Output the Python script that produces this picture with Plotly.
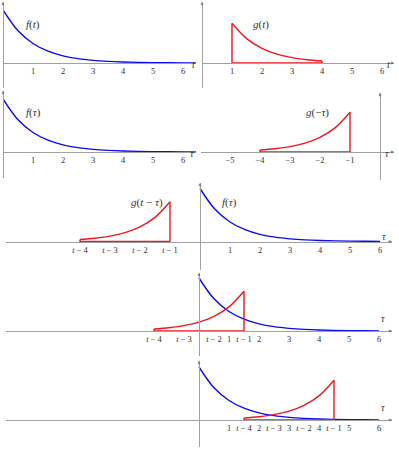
import plotly.graph_objects as go

# ---------------- data ----------------
# f(tau) sampled every 0.5 from 0 to 6.5
f_tau = [0, 0.5, 1, 1.5, 2, 2.5, 3, 3.5, 4, 4.5, 5, 5.5, 6, 6.5]
f_val = [1.0, 0.607, 0.368, 0.223, 0.135, 0.082, 0.050, 0.030, 0.018, 0.011, 0.0067, 0.0041, 0.0025, 0.0015]
# g(t) sampled every 0.5 on its support [1, 4]
g_tau = [1, 1.5, 2, 2.5, 3, 3.5, 4]
g_val = [0.75, 0.455, 0.276, 0.167, 0.101, 0.062, 0.037]
# shifts t used in the three lower rows
t_shifts = [0.0, 2.5, 5.5]

ticks_pos = [1, 2, 3, 4, 5, 6]
ticks_pos_txt = ["1", "2", "3", "4", "5", "6"]
ticks_neg = [-5, -4, -3, -2, -1]
ticks_neg_txt = ["−5", "−4", "−3", "−2", "−1"]
row3_vals = [-4, -3, -2, -1, 1, 2, 3, 4, 5, 6]
row3_txt = ["<i>t</i> − 4", "<i>t</i> − 3", "<i>t</i> − 2", "<i>t</i> − 1", "1", "2", "3", "4", "5", "6"]
row4_vals = [-1.5, -0.5, 0.5, 1, 1.5, 2, 3, 4, 5, 6]
row4_txt = ["<i>t</i> − 4", "<i>t</i> − 3", "<i>t</i> − 2", "1", "<i>t</i> − 1", "2", "3", "4", "5", "6"]
row5_vals = [1, 1.5, 2, 2.5, 3, 3.5, 4, 4.5, 5, 6]
row5_txt = ["1", "<i>t</i> − 4", "2", "<i>t</i> − 3", "3", "<i>t</i> − 2", "4", "<i>t</i> − 1", "5", "6"]

# ---------------- styling / layout ----------------
W, H = 399, 452
SX, SY = 30.0, 53.0  # pixels per unit
BLUE = "rgb(10,10,240)"
RED = "rgb(236,24,32)"
AXC = "#a0a0a0"
SERIF = "Liberation Serif, DejaVu Serif, serif"

fig = go.Figure()
layout = dict(width=W, height=H, margin=dict(l=0, r=0, t=0, b=0),
              paper_bgcolor="white", plot_bgcolor="rgba(0,0,0,0)",
              showlegend=False, annotations=[])

# panel: x-extent px, y-extent px, origin px, ticks, axis label, axis label px
panels = [
    dict(xe=(3, 196), ye=(2, 88), o=(3, 63), tv=ticks_pos, tt=ticks_pos_txt, lab="t", lp=(193, 57)),
    dict(xe=(202, 394), ye=(2, 88), o=(202, 63), tv=ticks_pos, tt=ticks_pos_txt, lab="t", lp=(392, 57)),
    dict(xe=(3, 196), ye=(91, 178), o=(3, 152), tv=ticks_pos, tt=ticks_pos_txt, lab="τ", lp=(192, 146)),
    dict(xe=(201, 394), ye=(93, 180), o=(380, 152), tv=ticks_neg, tt=ticks_neg_txt, lab="τ", lp=(391, 146)),
    dict(xe=(6, 392), ye=(183, 270), o=(200, 241.5), tv=row3_vals, tt=row3_txt, lab="τ", lp=(388, 236)),
    dict(xe=(6, 392), ye=(273, 356), o=(199, 331), tv=row4_vals, tt=row4_txt, lab="τ", lp=(387, 326)),
    dict(xe=(6, 392), ye=(361, 447), o=(199, 420), tv=row5_vals, tt=row5_txt, lab="τ", lp=(387, 415)),
]

axes = []
for i, p in enumerate(panels):
    n = "" if i == 0 else str(i + 1)
    xa, ya = "x" + n, "y" + n
    axes.append((xa, ya))
    (x0, x1), (y0, y1), (ox, oy) = p["xe"], p["ye"], p["o"]
    layout["xaxis" + n] = dict(
        domain=[x0 / W, x1 / W], range=[(x0 - ox) / SX, (x1 - ox) / SX],
        anchor="free", position=1 - oy / H, showline=True, linecolor=AXC, linewidth=0.8,
        showgrid=False, zeroline=False, ticks="", tickmode="array",
        tickvals=p["tv"], ticktext=p["tt"], tickangle=0,
        tickfont=dict(family=SERIF, size=8.5, color="#333"), fixedrange=True)
    layout["yaxis" + n] = dict(
        domain=[1 - y1 / H, 1 - y0 / H], range=[(oy - y1) / SY, (oy - y0) / SY],
        anchor="free", position=ox / W, showline=True, linecolor=AXC, linewidth=0.8,
        showgrid=False, zeroline=False, showticklabels=False, ticks="", fixedrange=True)
    # arrow heads
    layout["annotations"].append(dict(xref="paper", yref="paper", x=x1 / W, y=1 - oy / H,
                                      ax=-5, ay=0, text="", showarrow=True, arrowhead=2,
                                      arrowsize=0.7, arrowwidth=0.8, arrowcolor="#777"))
    layout["annotations"].append(dict(xref="paper", yref="paper", x=ox / W, y=1 - y0 / H,
                                      ax=0, ay=5, text="", showarrow=True, arrowhead=2,
                                      arrowsize=0.7, arrowwidth=0.8, arrowcolor="#777"))
    # axis label
    layout["annotations"].append(dict(xref="paper", yref="paper", x=p["lp"][0] / W, y=1 - p["lp"][1] / H,
                                      text="<i>%s</i>" % p["lab"], showarrow=False,
                                      font=dict(family=SERIF, size=10, color="#333")))


def curve(x, y, col, ax):
    fig.add_trace(go.Scatter(x=x, y=y, mode="lines", line=dict(color=col, width=1.4, shape="spline"),
                             xaxis=ax[0], yaxis=ax[1], hoverinfo="skip", cliponaxis=False))


def edges(x, y, col, ax):
    fig.add_trace(go.Scatter(x=x, y=y, mode="lines", line=dict(color=col, width=1.4),
                             xaxis=ax[0], yaxis=ax[1], hoverinfo="skip", cliponaxis=False))


def g_shape(xs, ax):
    # xs: transformed positions of g samples
    curve(xs, g_val, RED, ax)
    edges([xs[-1], xs[-1], xs[0], xs[0]], [g_val[-1], 0, 0, g_val[0]], RED, ax)


def label(ax, x, y, txt):
    layout["annotations"].append(dict(xref=ax[0], yref=ax[1], x=x, y=y, text=txt, showarrow=False,
                                      font=dict(family=SERIF, size=11, color="#333")))


# row 1
curve(f_tau, f_val, BLUE, axes[0])
label(axes[0], 1.0, 0.72, "<i>f</i>(<i>t</i>)")
g_shape(g_tau, axes[1])
label(axes[1], 1.97, 0.72, "<i>g</i>(<i>t</i>)")
# row 2
curve(f_tau, f_val, BLUE, axes[2])
label(axes[2], 1.0, 0.74, "<i>f</i>(<i>τ</i>)")
g_shape([-v for v in g_tau], axes[3])
label(axes[3], -2.1, 0.74, "<i>g</i>(−<i>τ</i>)")
# rows 3-5
f6 = [v for v in f_tau if v <= 6]
for k, t in enumerate(t_shifts):
    ax = axes[4 + k]
    curve(f6, f_val[:len(f6)], BLUE, ax)
    g_shape([t - v for v in g_tau], ax)
label(axes[4], -1.77, 0.73, "<i>g</i>(<i>t</i> − <i>τ</i>)")
label(axes[4], 0.97, 0.73, "<i>f</i>(<i>τ</i>)")

fig.update_layout(**layout)
fig.write_html("out.html", config={"displayModeBar": False},
               post_script="document.body.style.margin='0';document.body.style.overflow='hidden';")
